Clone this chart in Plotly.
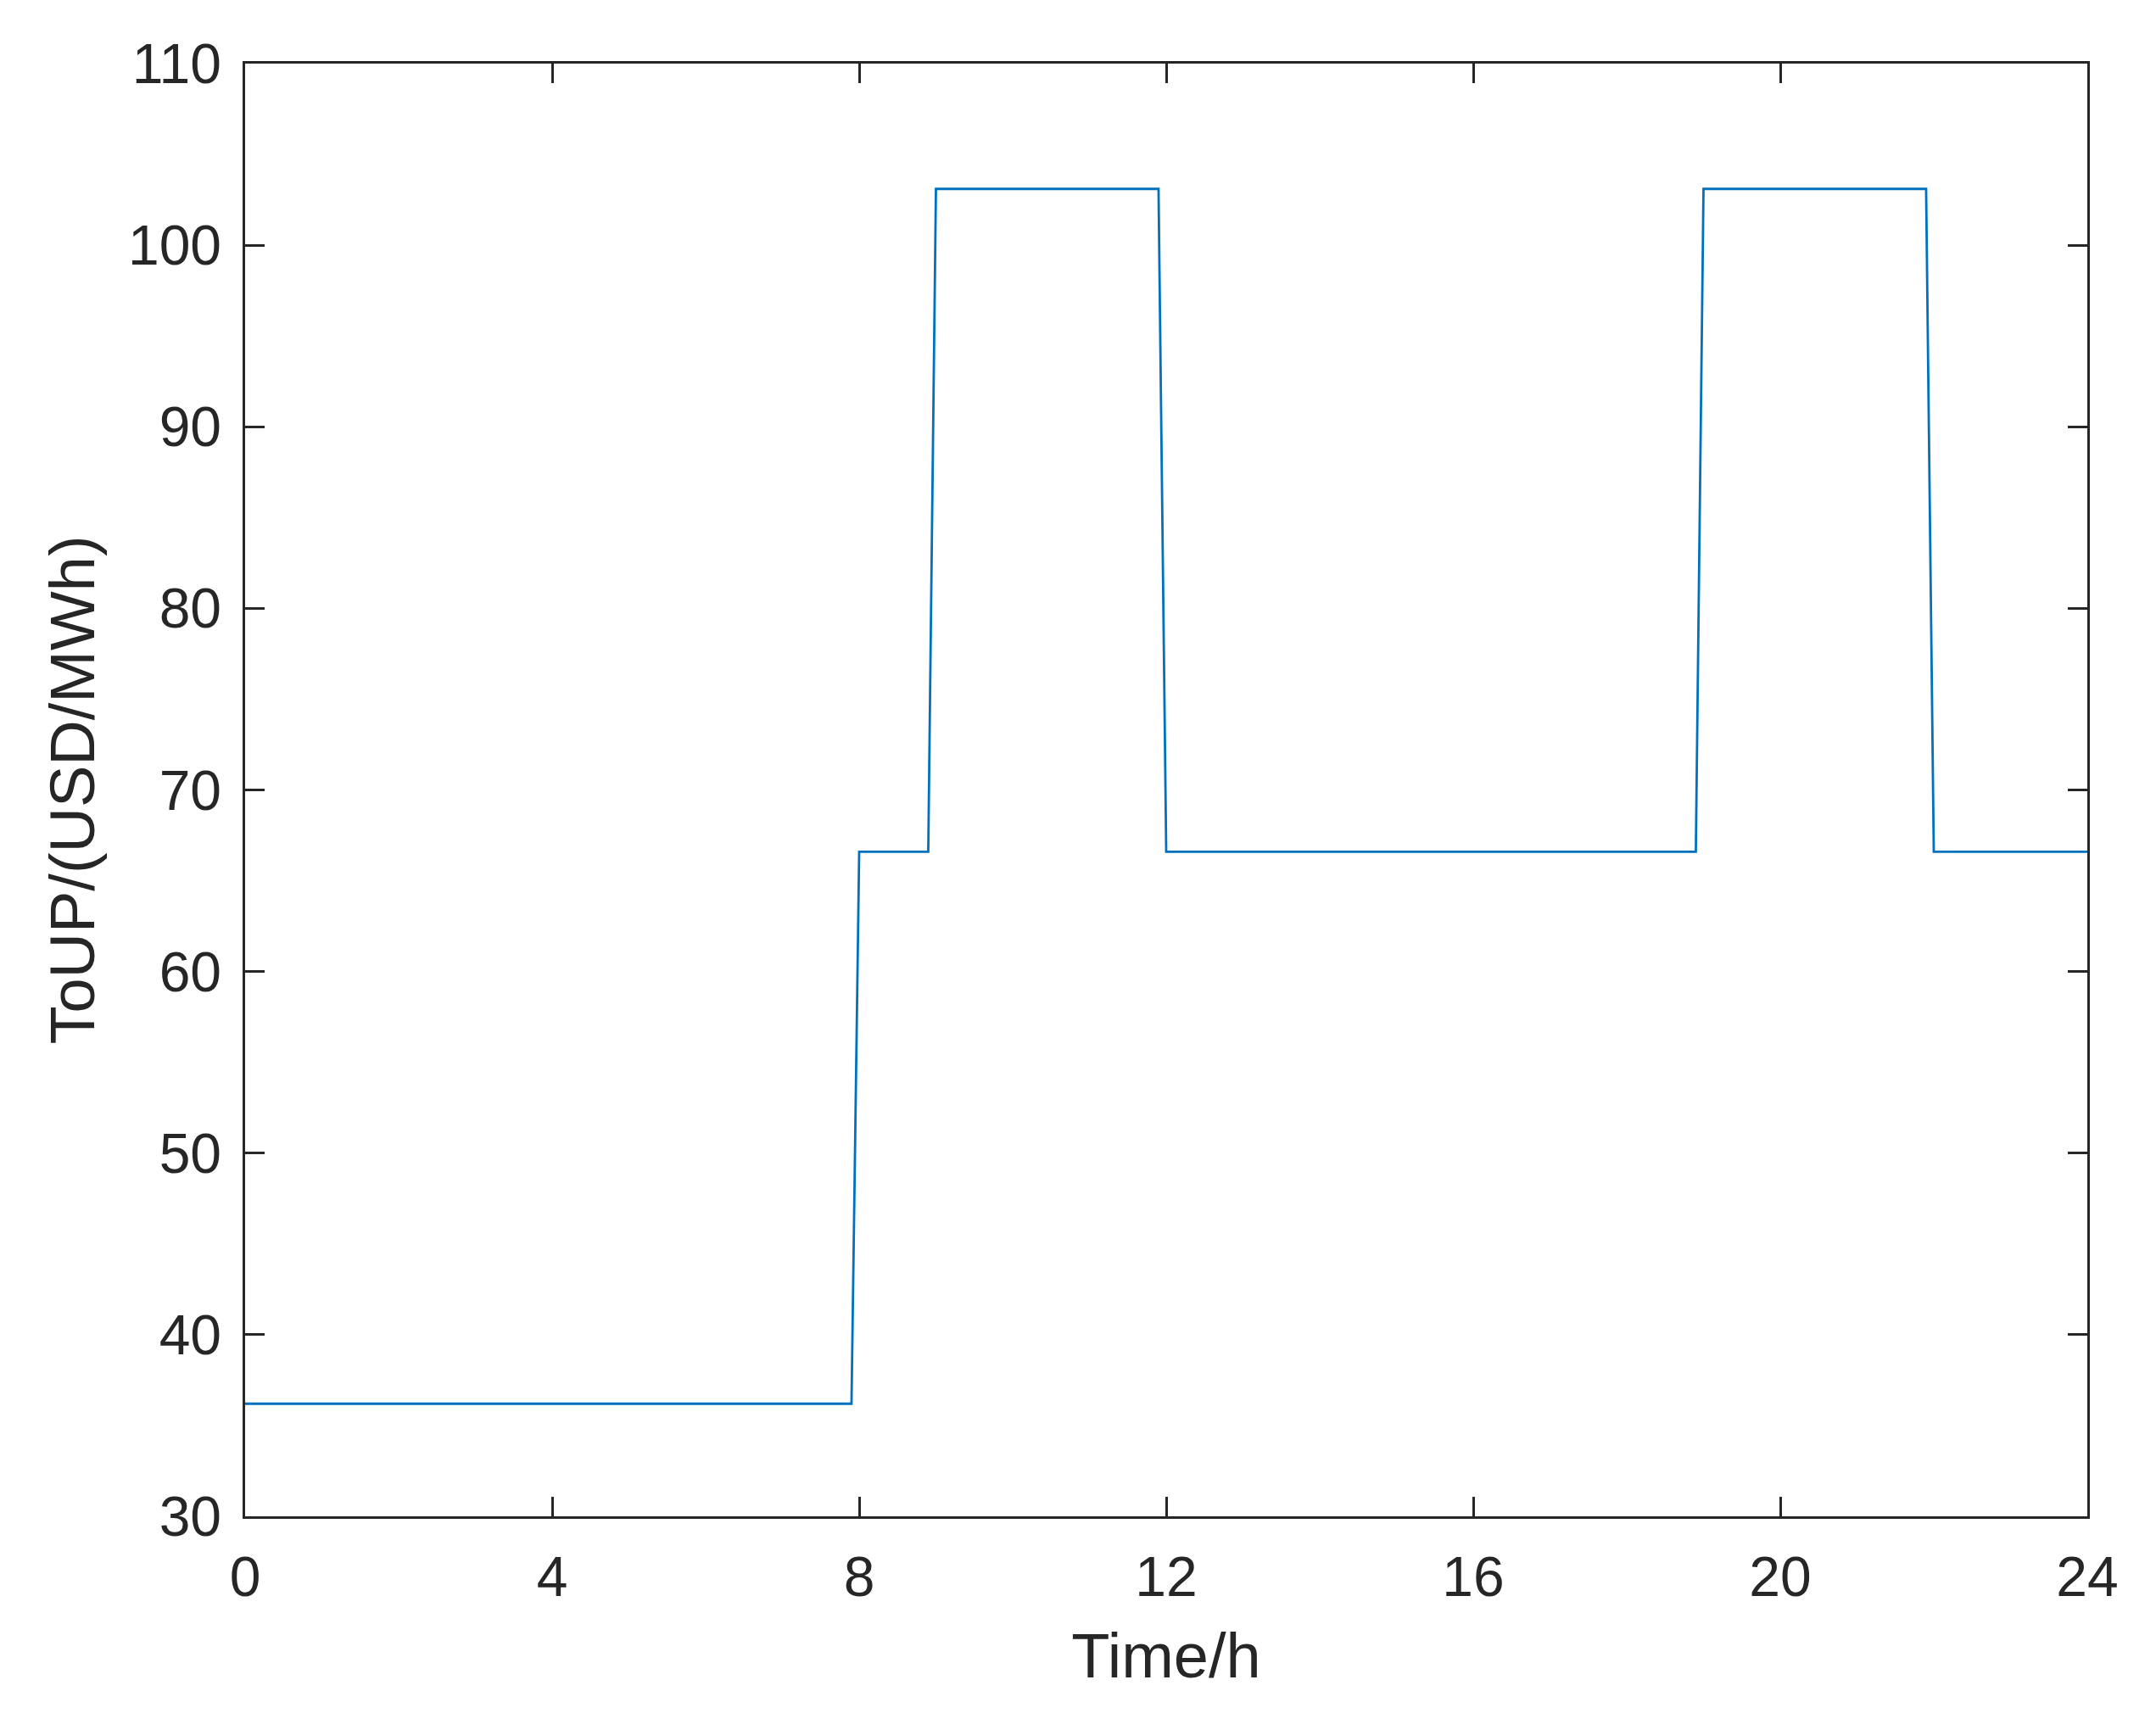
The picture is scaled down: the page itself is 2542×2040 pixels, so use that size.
import plotly.graph_objects as go

# Hourly time-of-use price (USD/MWh), hour 0..23
hours = list(range(24))
price = [36.2, 36.2, 36.2, 36.2, 36.2, 36.2, 36.2, 36.2,
         66.6, 103.1, 103.1, 103.1,
         66.6, 66.6, 66.6, 66.6, 66.6, 66.6, 66.6,
         103.1, 103.1, 103.1,
         66.6, 66.6]
x_ticks = [0, 4, 8, 12, 16, 20, 24]
y_ticks = [30, 40, 50, 60, 70, 80, 90, 100, 110]

# sample the hourly step profile on a 0.1 h grid (as in the original plot)
step = 0.1
n = int(round(24 / step))
xs = [round(k * step, 1) for k in range(n + 1)]
ys = [price[min(int(k * step + 1e-9), 23)] for k in range(n + 1)]

font_fam = "Liberation Sans, Arial, Helvetica, sans-serif"
dark = "#262626"

fig = go.Figure()
fig.add_trace(go.Scatter(x=xs, y=ys, mode="lines",
                         line=dict(color="#0072BD", width=2.8),
                         showlegend=False))

axis_common = dict(
    showgrid=False, zeroline=False, showline=True, linecolor=dark, linewidth=2.5,
    mirror="ticks", ticks="inside", ticklen=23, tickwidth=2.5, tickcolor=dark,
    tickfont=dict(family=font_fam, size=66, color=dark),
)
fig.update_xaxes(range=[0, 24], tickvals=x_ticks, ticktext=[str(v) for v in x_ticks],
                 title=dict(text="Time/h", font=dict(family=font_fam, size=74, color=dark),
                            standoff=32),
                 ticklabelstandoff=12,
                 **axis_common)
fig.update_yaxes(range=[30, 110], tickvals=y_ticks, ticktext=[str(v) for v in y_ticks],
                 title=dict(text="ToUP/(USD/MWh)", font=dict(family=font_fam, size=74, color=dark),
                            standoff=16),
                 ticklabelstandoff=12,
                 **axis_common)
fig.update_layout(width=2534, height=2032,
                  margin=dict(l=281, r=81, t=67, b=252),
                  plot_bgcolor="white", paper_bgcolor="white")
fig.write_html("out.html")
